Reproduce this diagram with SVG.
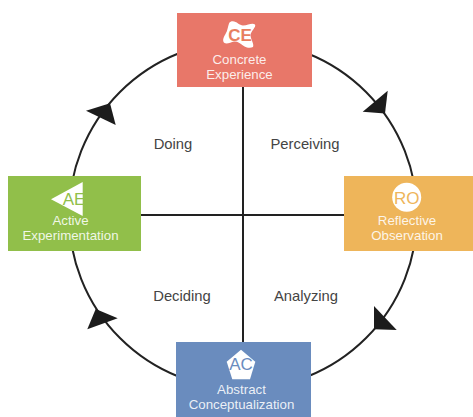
<svg xmlns="http://www.w3.org/2000/svg" width="473" height="417" viewBox="0 0 473 417">
<style>
text{font-family:"Liberation Sans",Arial,sans-serif;text-anchor:middle}
.lbl{font-size:13.3px;fill:#fff;fill-opacity:.88}
.ico{font-size:17px}
.cap{font-size:14.8px;fill:#444}
.ln{fill:none;stroke:#222;stroke-width:2}
.ah{fill:#1c1c1c}
.w{fill:#fff}
</style>
<rect width="473" height="417" fill="#fff"/>
<g id="connectors">
<circle class="ln" cx="243" cy="215" r="174"/>
<path class="ln" d="M243 87V342M141 215H344"/>
<polygon class="ah" points="387.7,90.7 362.7,111.7 385,113.5"/>
<polygon class="ah" points="374,306 396.7,330 374,329.3"/>
<polygon class="ah" points="95.7,309 87.3,329.3 117.7,318.3"/>
<polygon class="ah" points="110,103.3 86,110.7 115.7,125"/>
</g>
<g id="captions">
<text class="cap" x="173" y="149">Doing</text>
<text class="cap" x="305" y="149">Perceiving</text>
<text class="cap" x="182" y="301">Deciding</text>
<text class="cap" x="306" y="301">Analyzing</text>
</g>
<g id="node-ce">
<rect x="177" y="13" width="135" height="74" fill="#e87769"/>
<path class="w" d="M231 21.5C236 20 239 25.500 243 25.500C248 25.500 252 22.500 255 24.500C256.500 27 251 31 250.500 35C250.500 39 254.500 44 253 47C250 48.700 246 47.500 243 45.500C240 43 237 41 234 41.500C231 42 227 44.500 224.500 43C222 41 223.500 37 225.500 34C227.500 31 228 26 229 23.500C229.500 22.500 230 22 231 21.500Z"/>
<text class="ico" x="240" y="41" fill="#e87f5f" font-weight="bold">CE</text>
<text class="lbl" x="239.5" y="64.3">Concrete</text>
<text class="lbl" x="239.5" y="79">Experience</text>
</g>
<g id="node-ae">
<rect x="8" y="176" width="133" height="75" fill="#91bf4a"/>
<polygon class="w" points="51,199.3 82.7,182 82.7,216"/>
<text class="ico" x="74" y="205" fill="#91bf4a">AE</text>
<text class="lbl" x="70.5" y="225">Active</text>
<text class="lbl" x="70.5" y="240">Experimentation</text>
</g>
<g id="node-ro">
<rect x="344" y="176" width="129" height="75" fill="#eeb55a"/>
<circle class="w" cx="406.7" cy="197.3" r="14.5"/>
<text class="ico" x="406.7" y="203.5" fill="#eeb55a">RO</text>
<text class="lbl" x="407" y="225">Reflective</text>
<text class="lbl" x="407" y="240">Observation</text>
</g>
<g id="node-ac">
<rect x="176" y="342" width="135" height="75" fill="#6a8cbe"/>
<polygon class="w" points="241,349.7 255.3,361.7 250,379.3 232.3,379.3 226.7,361.7"/>
<text class="ico" x="241" y="370" fill="#6a8cbe">AC</text>
<text class="lbl" x="241.5" y="394.3">Abstract</text>
<text class="lbl" x="241.5" y="408.5">Conceptualization</text>
</g>
</svg>
